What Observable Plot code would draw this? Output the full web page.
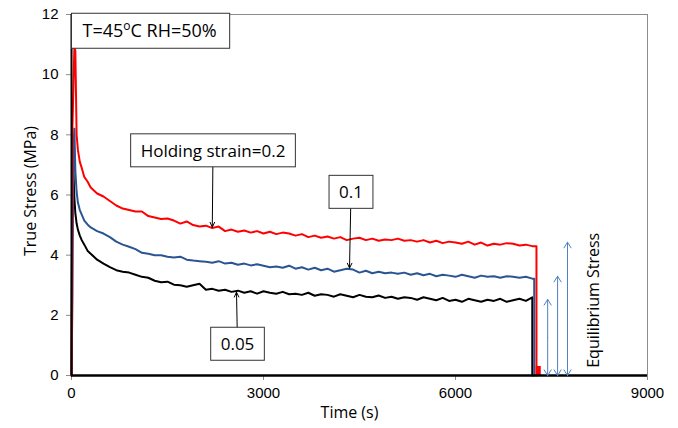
<!DOCTYPE html>
<html><head><meta charset="utf-8">
<script src="https://cdn.jsdelivr.net/npm/d3@7"></script>
<script src="https://cdn.jsdelivr.net/npm/@observablehq/plot@0.6"></script>
<style>body{margin:0;background:#fff}</style>
</head><body><div id="chart"></div>
<script>
const time = [0,15,30,45,60,80,100,130,160,200,250,300,400,500,600,700,
  800,900,1000,1100,1200,1300,1400,1500,1600,1700,
  1800,1900,2000,2100,2200,2300,2400,2500,2600,2700,
  2800,2900,3000,3100,3200,3300,3400,3500,3600,3700,
  3800,3900,4000,4100,4200,4300,4400,4500,4600,4700,
  4800,4900,5000,5100,5200,5300,5400,5500,5600,5700,
  5800,5900,6000,6100,6200,6300,6400,6500,6600,6700,
  6800,6900,7000,7100,7200];
const stress02 = [0,8.3,9.6,10.9,10.8,8.0,7.5,7.1,6.9,6.6,6.45,6.25,6.05,5.95,5.8,5.65,
  5.55,5.5,5.45,5.45,5.3,5.25,5.2,5.22,5.15,5.05,
  5.12,5.0,4.95,4.98,4.9,4.95,4.8,4.85,4.78,4.82,
  4.75,4.8,4.72,4.78,4.7,4.75,4.72,4.65,4.7,4.6,
  4.65,4.58,4.62,4.55,4.6,4.5,4.55,4.58,4.5,4.55,
  4.48,4.52,4.5,4.55,4.48,4.5,4.45,4.5,4.42,4.48,
  4.4,4.45,4.42,4.38,4.45,4.35,4.42,4.32,4.38,4.35,
  4.4,4.38,4.32,4.35,4.3];
const stress01 = [0,2.6,7.5,8.2,6.8,6.1,5.75,5.5,5.35,5.15,5.02,4.92,4.8,4.72,4.6,4.45,
  4.35,4.28,4.2,4.08,4.05,4.0,4.0,3.95,3.92,3.95,
  3.85,3.82,3.8,3.78,3.75,3.8,3.72,3.75,3.68,3.72,
  3.66,3.7,3.65,3.6,3.62,3.58,3.65,3.55,3.6,3.52,
  3.58,3.5,3.55,3.45,3.5,3.55,3.52,3.42,3.48,3.4,
  3.45,3.4,3.42,3.38,3.42,3.35,3.4,3.33,3.38,3.3,
  3.35,3.32,3.28,3.35,3.3,3.25,3.32,3.28,3.3,3.25,
  3.3,3.28,3.25,3.28,3.22];
const stress005 = [0,8.0,6.8,5.9,5.4,5.05,4.85,4.65,4.5,4.35,4.15,4.05,3.85,3.72,3.6,3.5,
  3.45,3.42,3.35,3.28,3.25,3.15,3.1,3.12,3.02,3.0,
  2.95,3.0,3.05,2.85,2.88,2.82,2.85,2.78,2.82,2.75,
  2.8,2.72,2.8,2.75,2.72,2.78,2.7,2.72,2.68,2.75,
  2.65,2.7,2.68,2.62,2.7,2.65,2.6,2.68,2.62,2.6,
  2.66,2.58,2.62,2.55,2.6,2.58,2.52,2.6,2.55,2.5,
  2.58,2.48,2.52,2.45,2.55,2.5,2.45,2.52,2.48,2.55,
  2.45,2.5,2.55,2.48,2.6];
const seriesNames = ["0.05", "0.1", "0.2"];
const seriesValues = [stress005, stress01, stress02];
const seriesColors = ["#000000", "#2b5592", "#ff0000"];
const dropTime = [7200, 7230, 7265];
const redTailTime = [7262, 7340];
const redTailStress = 0.3;
const xTicks = [0, 3000, 6000, 9000];
const yTicks = [0, 2, 4, 6, 8, 10, 12];
const eqTime = [7440, 7595, 7750];
const eqStress = [2.53, 3.3, 4.43];
const annLabels = ["Holding strain=0.2", "0.1", "0.05"];
const annTextTime = [2211, 4367, 2594];
const annTextStress = [7.45, 6.07, 1.02];
const annPointTime = [2200, 4344, 2578];
const annPointStress = [4.93, 3.57, 2.77];
const conditionParts = ["T=45", "o", "C RH=50%"];
const eqLabel = "Equilibrium Stress";
const eqLabelTime = 8156, eqLabelStress = 2.5;
const xTitle = "Time (s)", yTitle = "True Stress (MPa)";

const lineData = [];
seriesNames.forEach((name, s) => {
  const v = seriesValues[s];
  time.forEach((t, i) => lineData.push({series: name, t, v: v[i]}));
  lineData.push({series: name, t: dropTime[s], v: v[v.length - 1]});
  lineData.push({series: name, t: dropTime[s], v: 0});
});
const annIdx = annLabels.map((_, i) => i);
const eqIdx = eqTime.map((_, i) => i);
const ann = "Open Sans";
const conditionText = conditionParts.join("");

const plot = Plot.plot({
  width: 678, height: 428,
  marginTop: 14, marginRight: 31, marginBottom: 53, marginLeft: 71,
  style: {fontFamily: "Liberation Sans", fontSize: "15px", color: "#000", background: "#fff"},
  x: {domain: [0, 9000]},
  y: {domain: [0, 12]},
  color: {domain: seriesNames, range: seriesColors},
  marks: [
    Plot.frame({stroke: "#8c8c8c", strokeWidth: 1}),
    Plot.axisX({ticks: xTicks, tickFormat: d => String(d), tickSize: 5, tickPadding: 7, label: null, fontSize: 15, stroke: "#8c8c8c"}),
    Plot.axisY({ticks: yTicks, tickFormat: d => String(d), tickSize: 5, tickPadding: 8, label: null, fontSize: 15, stroke: "#8c8c8c"}),
    Plot.line(lineData, {x: "t", y: "v", z: "series", stroke: "series", strokeWidth: 2, strokeLinejoin: "round"}),
    Plot.rect([0], {x1: () => redTailTime[0], x2: () => redTailTime[1], y1: 0, y2: () => redTailStress, fill: "#ff0000"}),
    Plot.ruleX([0], {stroke: "#000", strokeWidth: 2}),
    Plot.ruleY([0], {stroke: "#000", strokeWidth: 2.5}),
    Plot.arrow(eqIdx, {x1: i => eqTime[i], x2: i => eqTime[i], y1: i => eqStress[i] / 2, y2: i => eqStress[i], stroke: "#4f81c4", strokeWidth: 1, headLength: 10, headAngle: 64}),
    Plot.arrow(eqIdx, {x1: i => eqTime[i], x2: i => eqTime[i], y1: i => eqStress[i] / 2, y2: 0, stroke: "#4f81c4", strokeWidth: 1, headLength: 10, headAngle: 64}),
    Plot.text([eqLabel], {x: () => eqLabelTime, y: () => eqLabelStress, rotate: -90, fontFamily: ann, fontSize: 16, fill: "#000"}),
    Plot.arrow(annIdx, {x1: i => annTextTime[i], y1: i => annTextStress[i], x2: i => annPointTime[i], y2: i => annPointStress[i], stroke: "#000", strokeWidth: 1, headLength: 8, headAngle: 50}),
    Plot.text(annIdx, {x: i => annTextTime[i], y: i => annTextStress[i], text: i => annLabels[i], fontFamily: ann, fontSize: 17, fill: "#000"}),
    Plot.text([conditionText], {frameAnchor: "top-left", dx: 11, dy: 17, textAnchor: "start", lineAnchor: "middle", fontFamily: ann, fontSize: 18, fill: "#000"}),
    Plot.text([yTitle], {frameAnchor: "left", rotate: -90, dx: -41, dy: -4, textAnchor: "middle", lineAnchor: "middle", fontFamily: ann, fontSize: 16, fill: "#000"}),
    Plot.text([xTitle], {frameAnchor: "bottom", dy: 37, dx: -10, textAnchor: "middle", lineAnchor: "middle", fontFamily: ann, fontSize: 16, fill: "#000"})
  ]
});
document.getElementById("chart").appendChild(plot);

const NS = "http://www.w3.org/2000/svg";
function boxText(t, padL, padR, padT, padB) {
  const b = t.getBBox();
  const r = document.createElementNS(NS, "rect");
  r.setAttribute("x", b.x - padL);
  r.setAttribute("y", b.y - padT);
  r.setAttribute("width", b.width + padL + padR);
  r.setAttribute("height", b.height + padT + padB);
  r.setAttribute("fill", "#fff");
  r.setAttribute("stroke", "#333");
  r.setAttribute("stroke-width", "1");
  const tr = t.getAttribute("transform");
  if (tr) r.setAttribute("transform", tr);
  t.parentNode.insertBefore(r, t);
}
Array.from(plot.querySelectorAll("text")).forEach(t => {
  const s = t.textContent;
  if (s === conditionText) {
    while (t.firstChild) t.removeChild(t.firstChild);
    t.appendChild(document.createTextNode(conditionParts[0]));
    const sup = document.createElementNS(NS, "tspan");
    sup.setAttribute("dy", "-7"); sup.setAttribute("font-size", "12");
    sup.textContent = conditionParts[1];
    t.appendChild(sup);
    const rest = document.createElementNS(NS, "tspan");
    rest.setAttribute("dy", "7");
    rest.textContent = conditionParts[2];
    t.appendChild(rest);
    boxText(t, 11, 13, 4, 6);
  } else if (annLabels.includes(s)) {
    boxText(t, 10, 10, 5, 5);
  }
});
</script></body></html>
